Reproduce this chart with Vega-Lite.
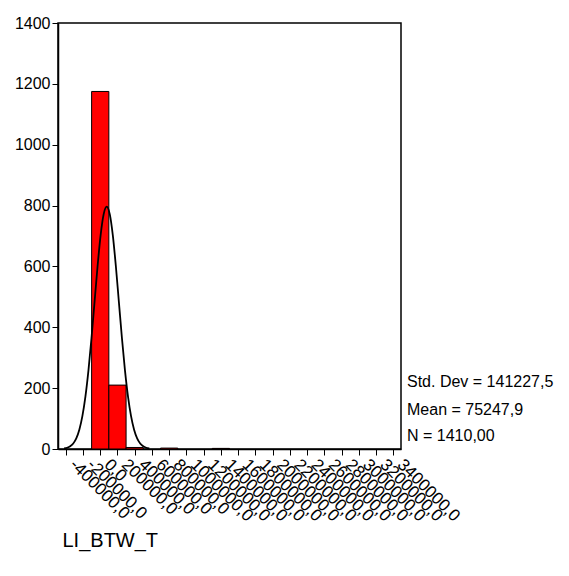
{
  "$schema": "https://vega.github.io/schema/vega-lite/v6.json",
  "width": 343,
  "height": 426,
  "autosize": "none",
  "padding": {"left": 58, "top": 23, "right": 168, "bottom": 127},
  "background": "white",
  "config": {
    "font": "Liberation Sans",
    "view": {"stroke": "black", "strokeWidth": 1.5},
    "axis": {
      "grid": false,
      "domainColor": "black",
      "domainWidth": 1.5,
      "tickColor": "black",
      "tickSize": 6,
      "labelColor": "black",
      "labelFontSize": 16,
      "labelFont": "Liberation Sans",
      "titleFont": "Liberation Sans",
      "titleColor": "black"
    },
    "text": {"font": "Liberation Sans", "fontSize": 16, "color": "black", "align": "left", "baseline": "middle", "dx": 6}
  },
  "layer": [
    {
      "data": {
        "values": [
          {"bin_lo": -100000, "bin_hi": 100000, "count": 1175},
          {"bin_lo": 100000, "bin_hi": 300000, "count": 210},
          {"bin_lo": 300000, "bin_hi": 500000, "count": 5},
          {"bin_lo": 700000, "bin_hi": 900000, "count": 3},
          {"bin_lo": 1300000, "bin_hi": 1500000, "count": 2}
        ]
      },
      "mark": {"type": "bar", "color": "#ff0000", "stroke": "black", "strokeWidth": 1},
      "encoding": {
        "x": {
          "field": "bin_lo",
          "type": "quantitative",
          "scale": {"domain": [-490000, 3490000], "nice": false, "zero": false},
          "axis": {
            "values": [-400000, -200000, 0, 200000, 400000, 600000, 800000, 1000000, 1200000, 1400000, 1600000, 1800000, 2000000, 2200000, 2400000, 2600000, 2800000, 3000000, 3200000, 3400000],
            "tickCount": 30,
            "labelExpr": "datum.value + ',0'",
            "labelAngle": 45,
            "labelAlign": "left",
            "labelBaseline": "bottom",
            "labelFontSize": 17,
            "labelPadding": 13,
            "labelOverlap": false,
            "labelBound": false,
            "labelFlush": false,
            "labelSeparation": 0,
            "title": "LI_BTW_T",
            "titleFontSize": 20,
            "titleFontWeight": "normal",
            "titleAnchor": "start",
            "titleAlign": "left",
            "titleBaseline": "alphabetic",
            "titleX": 4,
            "titleY": 97
          }
        },
        "x2": {"field": "bin_hi"},
        "y": {
          "field": "count",
          "type": "quantitative",
          "scale": {"domain": [0, 1400], "nice": false},
          "axis": {
            "values": [0, 200, 400, 600, 800, 1000, 1200, 1400],
            "tickCount": 20,
            "format": "d",
            "labelPadding": 2,
            "title": null
          }
        },
        "y2": {"datum": 0}
      }
    },
    {
      "data": {
        "values": [
          {"value": -419048, "density": 1.74},
          {"value": -383742, "density": 4.05},
          {"value": -348435, "density": 8.85},
          {"value": -313128, "density": 18.16},
          {"value": -277821, "density": 35.0},
          {"value": -242515, "density": 63.38},
          {"value": -207207, "density": 107.81},
          {"value": -171900, "density": 172.28},
          {"value": -136593, "density": 258.62},
          {"value": -101287, "density": 364.71},
          {"value": -65980, "density": 483.16},
          {"value": -30673, "density": 601.3},
          {"value": 4634, "density": 703.0},
          {"value": 39941, "density": 772.09},
          {"value": 75248, "density": 796.6},
          {"value": 110555, "density": 772.09},
          {"value": 145862, "density": 703.0},
          {"value": 181169, "density": 601.3},
          {"value": 216475, "density": 483.16},
          {"value": 251782, "density": 364.71},
          {"value": 287089, "density": 258.62},
          {"value": 322396, "density": 172.28},
          {"value": 357703, "density": 107.81},
          {"value": 393010, "density": 63.38},
          {"value": 428317, "density": 35.0},
          {"value": 463623, "density": 18.16},
          {"value": 498930, "density": 8.85},
          {"value": 534237, "density": 4.05},
          {"value": 569544, "density": 1.74}
        ]
      },
      "mark": {"type": "line", "color": "black", "strokeWidth": 1.8, "interpolate": "monotone"},
      "encoding": {
        "x": {
          "field": "value",
          "type": "quantitative",
          "axis": {
            "values": [-400000, -200000, 0, 200000, 400000, 600000, 800000, 1000000, 1200000, 1400000, 1600000, 1800000, 2000000, 2200000, 2400000, 2600000, 2800000, 3000000, 3200000, 3400000],
            "tickCount": 30,
            "labelExpr": "datum.value + ',0'",
            "labelAngle": 45,
            "labelAlign": "left",
            "labelBaseline": "bottom",
            "labelFontSize": 17,
            "labelPadding": 13,
            "labelOverlap": false,
            "labelBound": false,
            "labelFlush": false,
            "labelSeparation": 0,
            "title": "LI_BTW_T",
            "titleFontSize": 20,
            "titleFontWeight": "normal",
            "titleAnchor": "start",
            "titleAlign": "left",
            "titleBaseline": "alphabetic",
            "titleX": 4,
            "titleY": 97
          }
        },
        "y": {"field": "density", "type": "quantitative"}
      }
    },
    {
      "data": {"values": [{"stat": "Std. Dev = 141227,5"}]},
      "mark": {"type": "text", "clip": false},
      "encoding": {
        "x": {"datum": 3490000},
        "y": {"datum": 220},
        "text": {"field": "stat"}
      }
    },
    {
      "data": {"values": [{"stat": "Mean = 75247,9"}]},
      "mark": {"type": "text", "clip": false},
      "encoding": {
        "x": {"datum": 3490000},
        "y": {"datum": 128},
        "text": {"field": "stat"}
      }
    },
    {
      "data": {"values": [{"stat": "N = 1410,00"}]},
      "mark": {"type": "text", "clip": false},
      "encoding": {
        "x": {"datum": 3490000},
        "y": {"datum": 43},
        "text": {"field": "stat"}
      }
    }
  ]
}
